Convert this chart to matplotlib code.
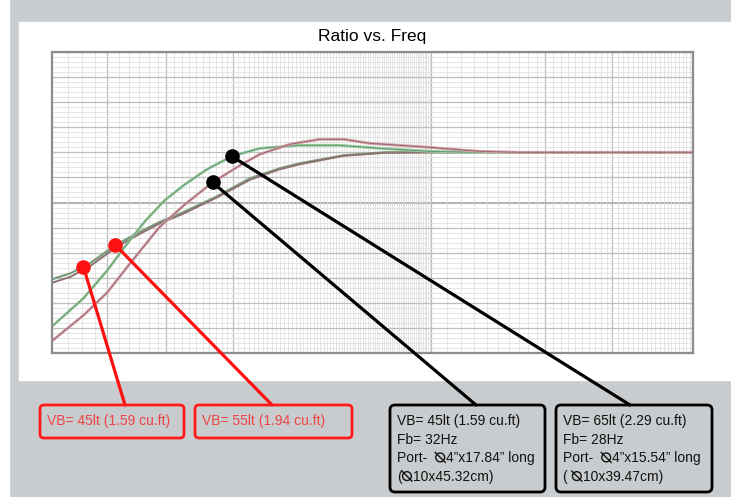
import numpy as np
import matplotlib
matplotlib.use('Agg')
import matplotlib.pyplot as plt
from matplotlib.patches import FancyBboxPatch, Rectangle, Circle
from matplotlib.lines import Line2D
from matplotlib.transforms import IdentityTransform

# curve data: frequency (Hz) and ratio (dB)
green_f = [10, 12.1, 14.0, 15.6, 17.6, 19.8, 22.4, 25.6, 29.8, 35.3, 44.9, 57.3, 73.0, 98.8, 134, 490]
green_db = [-34.7, -29.1, -23.5, -18.7, -13.7, -9.6, -6.4, -3.4, -0.8, 0.8, 1.4, 1.4, 0.8, 0.2, 0, 0]

red_f = [10, 12.1, 14.0, 16.0, 19.2, 22.4, 26.5, 31.3, 35.3, 42.3, 50.7, 58.9, 68.7, 98.8, 134, 170, 490]
red_db = [-37.6, -32.5, -27.9, -22.3, -14.9, -10.4, -6.0, -2.6, -0.4, 1.6, 2.6, 2.6, 1.8, 1.0, 0.2, 0, 0]

shallow_g_f = [10, 11.2, 12.6, 14.7, 17.0, 19.2, 22.1, 27.2, 33.2, 39.8, 44.9, 58.7, 75.2, 490]
shallow_g_db = [-25.3, -24.1, -22.1, -18.5, -15.9, -13.9, -12.0, -8.8, -5.2, -3.2, -2.2, -0.6, 0, 0]

shallow_r_f = [10, 11.2, 12.6, 14.7, 17.0, 19.2, 22.1, 27.2, 33.2, 39.8, 44.9, 58.7, 75.2, 100, 490]
shallow_r_db = [-26.0, -24.8, -22.7, -19.0, -16.3, -14.2, -12.3, -9.0, -5.5, -3.4, -2.4, -0.7, -0.1, 0, 0]

major_freqs = [14, 20, 30, 100, 200, 300]
minor_freqs = list(range(10, 100)) + list(range(100, 500, 10))

DIA = '\u29b0'  # no installed font has it, drawn as a circle with a backslash
red_labels = ['VB= 45lt (1.59 cu.ft)', 'VB= 55lt (1.94 cu.ft)']
black_labels = [
    ['VB= 45lt (1.59 cu.ft)', 'Fb= 32Hz', 'Port-  ' + DIA + '4\u201dx17.84\u201d long', '(' + DIA + '10x45.32cm)'],
    ['VB= 65lt (2.29 cu.ft)', 'Fb= 28Hz', 'Port-  ' + DIA + '4\u201dx15.54\u201d long', '( ' + DIA + '10x39.47cm)'],
]
# which curve / frequency each callout dot sits on
callouts = [
    (shallow_g_f, shallow_g_db, 12.1, '#ff1010'),
    (shallow_g_f, shallow_g_db, 14.7, '#ff1010'),
    (red_f, red_db, 26.5, 'black'),
    (green_f, green_db, 29.8, 'black'),
]

W, H = 731, 497
fig = plt.figure(figsize=(W / 100, H / 100), dpi=100, facecolor='#c9ccce')
fig.add_artist(Rectangle((0, 0), 9 / W, 1, transform=fig.transFigure, color='white', zorder=0))
fig.add_artist(Rectangle((19 / W, (H - 380) / H), 1, 358 / H, transform=fig.transFigure,
                         color='white', zorder=0))

ax = fig.add_axes([52 / W, (H - 353) / H, 641 / W, 301 / H])
ax.set_xscale('log')
ax.set_xlim(10, 490)
ax.set_ylim(-40, 20)

ax.set_xticks(major_freqs)
ax.set_xticks(minor_freqs, minor=True)
ax.set_yticks(np.arange(-40, 21, 5))
ax.set_yticks(np.arange(-40, 21, 1), minor=True)
ax.grid(which='minor', color='#e0e0e0', lw=0.6)
ax.grid(which='major', color='#bdbdbd', lw=0.9)
ax.axhline(-10, color='#a8a8a8', lw=1.4, zorder=1)
ax.tick_params(which='both', length=0, labelbottom=False, labelleft=False)
for s in ax.spines.values():
    s.set_color('#8c8c8c')
    s.set_linewidth(1.6)

ax.plot(shallow_g_f, shallow_g_db, color='#7a9c7c', lw=1.6)
ax.plot(shallow_r_f, shallow_r_db, color='#8f7272', lw=1.4)
ax.plot(green_f, green_db, color='#98c9a0', lw=2.0)
ax.plot(green_f, green_db, color='#5f9468', lw=0.6)
ax.plot(red_f, red_db, color='#cfa0a6', lw=2.0)
ax.plot(red_f, red_db, color='#9a5f68', lw=0.6)

ax.set_title('Ratio vs. Freq', fontsize=12.5, family='Liberation Sans', pad=8)

renderer = fig.canvas.get_renderer()
font = 'Liberation Sans'


def put_line(x, y, s, color, size=10):
    # write a line of text, drawing the diameter sign as a small shape
    parts = s.split(DIA)
    for k, p in enumerate(parts):
        if p:
            t = fig.text(x, y, p, transform=IdentityTransform(), color=color,
                         fontsize=size, family=font, va='center', ha='left')
            x += t.get_window_extent(renderer).width
        if k < len(parts) - 1:
            r = 4.4
            cx, cy = x + r + 0.8, y + 1
            fig.add_artist(Circle((cx, cy), r, transform=IdentityTransform(),
                                  fc='none', ec=color, lw=1.0))
            fig.add_artist(Line2D([cx - r - 0.6, cx + r + 0.6], [cy + r + 0.6, cy - r - 0.6],
                                  transform=IdentityTransform(), color=color, lw=1.0))
            x += 2 * r + 2.5


# boxes (pixel coords, origin bottom-left)
red_boxes = [(40, 59, 144, 33), (195, 59, 157, 33)]
black_boxes = [(390, 5, 155, 87), (556, 5, 156, 87)]
anchors = [(125, 92), (272, 92), (476, 92), (630, 92)]

for (x0, y0, w, h), txt in zip(red_boxes, red_labels):
    fig.add_artist(FancyBboxPatch((x0, y0), w, h, boxstyle='round,pad=0,rounding_size=4',
                                  transform=IdentityTransform(), fc='none', ec='#ff1a1a', lw=2))
    put_line(x0 + 7, y0 + h / 2, txt, '#ef4444')

for (x0, y0, w, h), lines in zip(black_boxes, black_labels):
    fig.add_artist(FancyBboxPatch((x0, y0), w, h, boxstyle='round,pad=0,rounding_size=5',
                                  transform=IdentityTransform(), fc='none', ec='black', lw=2))
    for i, ln in enumerate(lines):
        put_line(x0 + 7, y0 + h - 16 - i * 18.7, ln, '#111111')

for (cf, cdb, f, col), (ax_x, ax_y) in zip(callouts, anchors):
    db = np.interp(np.log10(f), np.log10(cf), cdb)
    ax.annotate('', xy=(f, db), xycoords='data', xytext=(ax_x, ax_y),
                textcoords=IdentityTransform(),
                arrowprops=dict(arrowstyle='-', color=col, lw=2.3, shrinkA=0, shrinkB=0))
    ax.plot([f], [db], 'o', color=col, ms=9.5, clip_on=False, zorder=5)

fig.savefig('out.png', dpi=100, facecolor=fig.get_facecolor())
